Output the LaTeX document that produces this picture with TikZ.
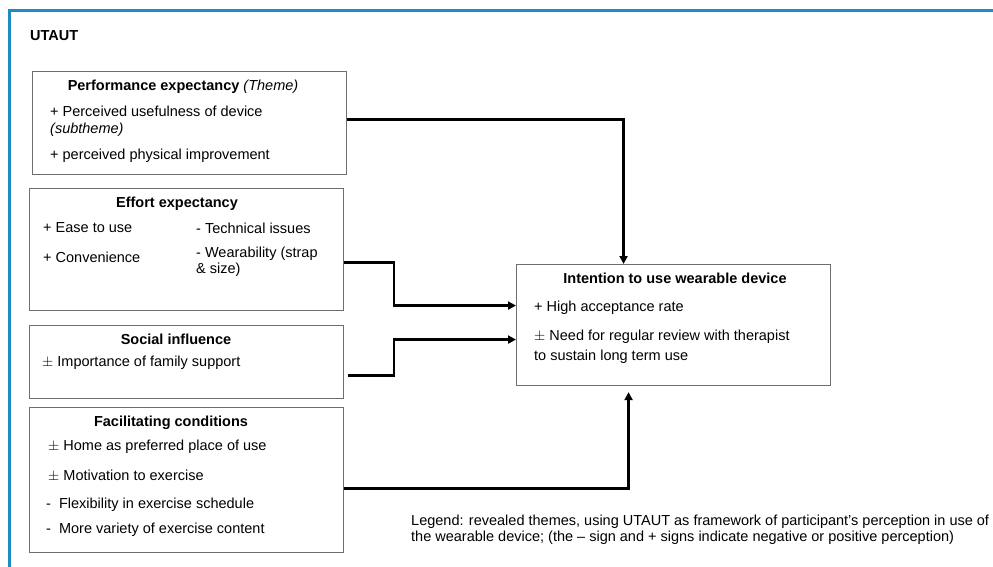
\documentclass[tikz,border=0pt]{standalone}
\usepackage{fontspec}
\setmainfont{Liberation Sans}
\usetikzlibrary{arrows.meta}

\definecolor{framecol}{RGB}{30,140,196}
\definecolor{boxcol}{RGB}{110,110,110}

\begin{document}
\begin{tikzpicture}[x=1pt,y=-1pt]
    \tikzset{every node/.style={inner sep=0pt, font=\fontsize{14.5}{16}\selectfont},
      box/.style={draw=boxcol, line width=1.1pt, anchor=north west},
      txt/.style={anchor=west},
      ttl/.style={font=\fontsize{14.5}{16}\selectfont\bfseries},
      conn/.style={line width=2.2pt, -{Triangle[length=8pt,width=8pt]}}}
    \useasboundingbox (0,0) rectangle (993,566);
    \clip (0,0) rectangle (993,566);
    \draw [framecol, line width=3pt] (9,10) rectangle (1020,600);
    \node [txt, font=\fontsize{14.5}{16}\selectfont\bfseries] (title) at (30,36) {UTAUT};
    % theme boxes
    \node [box, minimum width=314, minimum height=103] (perf) at (32,71) {};
    \node [box, minimum width=314, minimum height=122] (effort) at (29,188) {};
    \node [box, minimum width=314, minimum height=73] (social) at (29,325) {};
    \node [box, minimum width=314, minimum height=145] (facil) at (29,407) {};
    \node [box, minimum width=314, minimum height=121] (intent) at (516,264) {};
    % performance expectancy
    \node [ttl] (perfhead) at (183,87) {Performance expectancy \normalfont\itshape(Theme)};
    \node [txt] (perfa) at (50,111) {+ Perceived usefulness of device};
    \node [txt, font=\fontsize{14.5}{16}\selectfont\itshape] (perfb) at (50,130) {(subtheme)};
    \node [txt] (perfc) at (50,156) {+ perceived physical improvement};
    % effort expectancy
    \node [ttl] (efforthead) at (177,204) {Effort expectancy};
    \node [txt] (efforta) at (43,228) {+ Ease to use};
    \node [txt] (effortb) at (43,257) {+ Convenience};
    \node [txt] (effortc) at (196,228) {- Technical issues};
    \node [txt] (effortd) at (196,254) {- Wearability (strap};
    \node [txt] (efforte) at (196,270) {\& size)};
    % social influence
    \node [ttl] (socialhead) at (176,339) {Social influence};
    \node [txt] (sociala) at (42,363) {$\pm$ Importance of family support};
    % facilitating conditions
    \node [ttl] (facilhead) at (171,423) {Facilitating conditions};
    \node [txt] (facila) at (48,447) {$\pm$ Home as preferred place of use};
    \node [txt] (facilb) at (48,476) {$\pm$ Motivation to exercise};
    \node [txt] (facilc) at (46,505) {-\ \ Flexibility in exercise schedule};
    \node [txt] (facild) at (46,530) {-\ \ More variety of exercise content};
    % intention
    \node [ttl] (intenthead) at (675,278) {Intention to use wearable device};
    \node [txt] (intenta) at (534,308) {+ High acceptance rate};
    \node [txt] (intentb) at (534,337) {$\pm$ Need for regular review with therapist};
    \node [txt] (intentc) at (534,357) {to sustain long term use};
    % legend
    \node [txt] (legenda) at (411,522) {Legend: revealed themes, using UTAUT as framework of participant’s perception in use of};
    \node [txt] (legendb) at (411,538) {the wearable device; (the – sign and + signs indicate negative or positive perception)};
    % connectors
    \draw [conn] ([yshift=3.5]perf.east) -| ([xshift=-50]intent.north);
    \draw [conn] ([yshift=-13]effort.east) -- ++(50,0) |- ([yshift=19.5]intent.west);
    \draw [conn] ([xshift=4,yshift=-13.5]social.east) -- ++(46,0) |- ([yshift=-14.5]intent.west);
    \draw [conn, shorten >=6pt] ([yshift=-8.5]facil.east) -| ([xshift=-45]intent.south);
\end{tikzpicture}
\end{document}
